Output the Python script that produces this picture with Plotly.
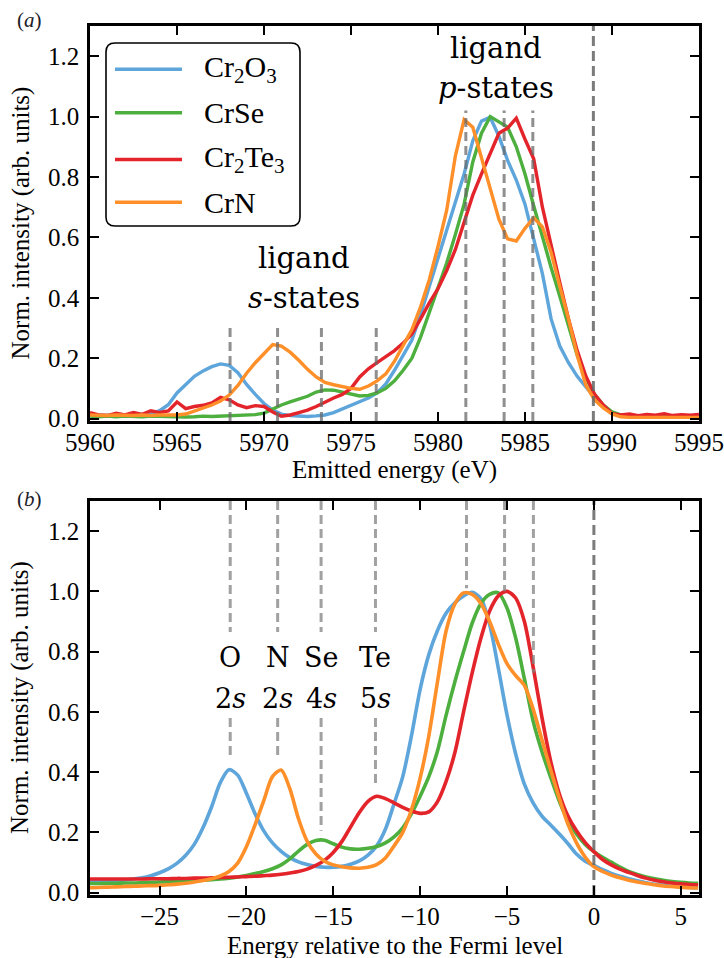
import plotly.graph_objects as go
from plotly.subplots import make_subplots

# ---------------- panel (a): measured emission spectra ----------------
energy_a = [
    5960.0, 5960.5, 5961.0, 5961.5, 5962.0, 5962.5, 5963.0, 5963.5, 5964.0, 5964.5,
    5965.0, 5965.5, 5966.0, 5966.5, 5967.0, 5967.5, 5968.0, 5968.5, 5969.0, 5969.5,
    5970.0, 5970.5, 5971.0, 5971.5, 5972.0, 5972.5, 5973.0, 5973.5, 5974.0, 5974.5,
    5975.0, 5975.5, 5976.0, 5976.5, 5977.0, 5977.5, 5978.0, 5978.5, 5979.0, 5979.5,
    5980.0, 5980.5, 5981.0, 5981.5, 5982.0, 5982.5, 5983.0, 5983.5, 5984.0, 5984.5,
    5985.0, 5985.5, 5986.0, 5986.5, 5987.0, 5987.5, 5988.0, 5988.5, 5989.0, 5989.5,
    5990.0, 5990.5, 5991.0, 5991.5, 5992.0, 5992.5, 5993.0, 5993.5, 5994.0, 5994.5,
    5995.0,
]
cr2o3_a = [
    0.010, 0.012, 0.010, 0.013, 0.010, 0.012, 0.012, 0.016, 0.026, 0.046,
    0.085, 0.114, 0.140, 0.158, 0.172, 0.181, 0.176, 0.152, 0.113, 0.080,
    0.050, 0.028, 0.015, 0.010, 0.008, 0.007, 0.009, 0.012, 0.020, 0.032,
    0.045, 0.056, 0.068, 0.085, 0.115, 0.160, 0.210, 0.260, 0.345, 0.438,
    0.530, 0.615, 0.710, 0.810, 0.920, 0.985, 0.998, 0.935, 0.855, 0.790,
    0.710, 0.600, 0.480, 0.330, 0.240, 0.185, 0.140, 0.105, 0.070, 0.040,
    0.020, 0.010, 0.006, 0.005, 0.005, 0.004, 0.005, 0.004, 0.005, 0.004,
    0.005,
]
crse_a = [
    0.008, 0.006, 0.008, 0.006, 0.008, 0.007, 0.006, 0.008, 0.007, 0.006,
    0.005, 0.005, 0.006, 0.008, 0.007, 0.008, 0.010, 0.009, 0.012, 0.013,
    0.018, 0.032, 0.045, 0.055, 0.064, 0.074, 0.088, 0.095, 0.094, 0.088,
    0.080, 0.075, 0.077, 0.085, 0.100, 0.125, 0.160, 0.200, 0.270, 0.350,
    0.430, 0.515, 0.610, 0.710, 0.850, 0.945, 1.000, 0.982, 0.965, 0.900,
    0.810, 0.705, 0.600, 0.500, 0.405, 0.310, 0.210, 0.135, 0.080, 0.045,
    0.022, 0.012, 0.009, 0.008, 0.009, 0.008, 0.008, 0.009, 0.008, 0.009,
    0.008,
]
cr2te3_a = [
    0.020, 0.012, 0.010, 0.018, 0.012, 0.020, 0.014, 0.026, 0.020, 0.025,
    0.055, 0.033, 0.040, 0.044, 0.052, 0.070, 0.062, 0.045, 0.036, 0.043,
    0.040, 0.022, 0.008, 0.012, 0.020, 0.028, 0.040, 0.055, 0.068, 0.080,
    0.100, 0.138, 0.165, 0.185, 0.205, 0.225, 0.250, 0.280, 0.330, 0.383,
    0.430, 0.490, 0.560, 0.650, 0.740, 0.810, 0.875, 0.945, 0.962, 0.995,
    0.925, 0.860, 0.700, 0.570, 0.450, 0.330, 0.225, 0.140, 0.080, 0.045,
    0.016, 0.012, 0.015, 0.010, 0.014, 0.011, 0.016, 0.010, 0.013, 0.011,
    0.014,
]
crn_a = [
    0.012, 0.010, 0.010, 0.012, 0.010, 0.010, 0.012, 0.010, 0.012, 0.012,
    0.012, 0.015, 0.025, 0.036, 0.045, 0.058, 0.078, 0.110, 0.150, 0.185,
    0.215, 0.245, 0.240, 0.220, 0.193, 0.163, 0.138, 0.120, 0.112, 0.105,
    0.100, 0.097, 0.108, 0.125, 0.148, 0.190, 0.240, 0.295, 0.370, 0.460,
    0.570, 0.690, 0.870, 0.990, 0.965, 0.860, 0.760, 0.660, 0.595, 0.588,
    0.630, 0.665, 0.635, 0.550, 0.438, 0.330, 0.210, 0.110, 0.062, 0.035,
    0.015, 0.006, 0.004, 0.004, 0.004, 0.004, 0.004, 0.004, 0.004, 0.004,
    0.004,
]

# ---------------- panel (b): calculated spectra vs. Fermi level ----------------
energy_b = [
    -29.0, -28.5, -28.0, -27.5, -27.0, -26.5, -26.0, -25.5, -25.0, -24.5,
    -24.0, -23.5, -23.0, -22.5, -22.0, -21.5, -21.0, -20.5, -20.0, -19.5,
    -19.0, -18.5, -18.0, -17.5, -17.0, -16.5, -16.0, -15.5, -15.0, -14.5,
    -14.0, -13.5, -13.0, -12.5, -12.0, -11.5, -11.0, -10.5, -10.0, -9.5,
    -9.0, -8.5, -8.0, -7.5, -7.0, -6.5, -6.0, -5.5, -5.0, -4.5,
    -4.0, -3.5, -3.0, -2.5, -2.0, -1.5, -1.0, -0.5, 0.0, 0.5,
    1.0, 1.5, 2.0, 2.5, 3.0, 3.5, 4.0, 4.5, 5.0, 5.5,
    6.0,
]
cr2o3_b = [
    0.037, 0.038, 0.039, 0.040, 0.042, 0.045, 0.049, 0.056, 0.066, 0.079,
    0.097, 0.123, 0.160, 0.215, 0.285, 0.365, 0.408, 0.390, 0.330, 0.262,
    0.205, 0.165, 0.137, 0.116, 0.102, 0.093, 0.087, 0.084, 0.084, 0.087,
    0.094, 0.105, 0.124, 0.155, 0.210, 0.295, 0.385, 0.520, 0.675, 0.790,
    0.870, 0.928, 0.962, 0.985, 0.997, 0.975, 0.890, 0.745, 0.590, 0.460,
    0.360, 0.298, 0.255, 0.225, 0.195, 0.163, 0.128, 0.104, 0.090, 0.076,
    0.064, 0.054, 0.046, 0.039, 0.033, 0.028, 0.025, 0.022, 0.019, 0.017,
    0.016,
]
crse_b = [
    0.030, 0.030, 0.031, 0.031, 0.032, 0.032, 0.033, 0.034, 0.035, 0.036,
    0.037, 0.038, 0.039, 0.041, 0.043, 0.045, 0.048, 0.052, 0.057, 0.063,
    0.070, 0.079, 0.092, 0.112, 0.138, 0.160, 0.173, 0.174, 0.162, 0.151,
    0.145, 0.144, 0.147, 0.153, 0.165, 0.185, 0.215, 0.262, 0.320, 0.385,
    0.470, 0.590, 0.700, 0.800, 0.895, 0.960, 0.990, 0.995, 0.945, 0.845,
    0.710, 0.570, 0.470, 0.385, 0.305, 0.240, 0.195, 0.160, 0.136, 0.117,
    0.101, 0.085, 0.070, 0.060, 0.052, 0.046, 0.041, 0.037, 0.034, 0.032,
    0.031,
]
cr2te3_b = [
    0.045, 0.045, 0.045, 0.045, 0.045, 0.045, 0.045, 0.046, 0.046, 0.046,
    0.047, 0.047, 0.048, 0.048, 0.049, 0.050, 0.051, 0.052, 0.053, 0.054,
    0.056, 0.058, 0.061, 0.065, 0.070, 0.078, 0.090, 0.107, 0.133, 0.170,
    0.218, 0.266, 0.303, 0.320, 0.312, 0.298, 0.283, 0.271, 0.263, 0.268,
    0.302, 0.370, 0.465, 0.600, 0.730, 0.845, 0.935, 0.985, 1.000, 0.978,
    0.900, 0.750, 0.585, 0.440, 0.330, 0.255, 0.205, 0.166, 0.136, 0.110,
    0.092, 0.078, 0.067, 0.057, 0.048, 0.041, 0.036, 0.032, 0.029, 0.027,
    0.025,
]
crn_b = [
    0.016, 0.017, 0.018, 0.019, 0.020, 0.021, 0.022, 0.023, 0.024, 0.026,
    0.028, 0.031, 0.035, 0.040, 0.046, 0.055, 0.070, 0.098, 0.152, 0.225,
    0.305, 0.385, 0.407, 0.345, 0.245, 0.170, 0.128, 0.104, 0.092, 0.086,
    0.082, 0.081, 0.084, 0.093, 0.115, 0.155, 0.200, 0.275, 0.380, 0.520,
    0.700, 0.870, 0.958, 0.995, 0.990, 0.960, 0.900, 0.825, 0.760, 0.720,
    0.688, 0.610, 0.510, 0.410, 0.315, 0.228, 0.165, 0.118, 0.086, 0.070,
    0.058, 0.049, 0.041, 0.035, 0.030, 0.026, 0.022, 0.020, 0.018, 0.016,
    0.015,
]

series_names = ["Cr<sub>2</sub>O<sub>3</sub>", "CrSe", "Cr<sub>2</sub>Te<sub>3</sub>", "CrN"]
series_colors = ["#5DA5DA", "#4DAF3E", "#E3242B", "#FF8F28"]

# reference energies (dashed guides)
s_state_a = [5968.05, 5970.78, 5973.30, 5976.45]
p_state_a = [5981.60, 5983.80, 5985.45]
fermi_a = 5988.93
s_guide_top_a = 0.30
p_guide_top_a = 1.02

s_state_b = [-20.93, -18.20, -15.70, -12.57]
s_guide_low_b = [0.445, 0.445, 0.205, 0.350]
p_state_b = [-7.33, -5.14, -3.48]
p_guide_low_b = [1.01, 1.00, 0.73]
fermi_b = 0.0
ligand_element = ["O", "N", "Se", "Te"]
ligand_orbital = ["2<i>s</i>", "2<i>s</i>", "4<i>s</i>", "5<i>s</i>"]

x_ticks_a = [5960, 5965, 5970, 5975, 5980, 5985, 5990, 5995]
x_ticks_b = [-25, -20, -15, -10, -5, 0, 5]
y_ticks = [0.0, 0.2, 0.4, 0.6, 0.8, 1.0, 1.2]

Y_MIN, Y_MAX = -0.008, 1.3
SERIF = "Liberation Serif, Times New Roman, serif"
LABEL_FONT = "DejaVu Serif"

# ---------------- figure geometry (pixels) ----------------
W, H = 724, 958
ML, MR, MT, MB = 90, 25, 26, 63
PW, PH = W - ML - MR, H - MT - MB


def px_x(px):
    return (px - ML) / PW


def px_y(py):
    return (H - MB - py) / PH


fig = make_subplots(rows=2, cols=1)

spectra_a = [cr2o3_a, crse_a, cr2te3_a, crn_a]
spectra_b = [cr2o3_b, crse_b, cr2te3_b, crn_b]

for name, color, ya in zip(series_names, series_colors, spectra_a):
    fig.add_trace(go.Scatter(x=energy_a, y=ya, mode="lines", name=name,
                             line=dict(color=color, width=3.4), showlegend=False),
                  row=1, col=1)

for name, color, yb in zip(series_names, series_colors, spectra_b):
    fig.add_trace(go.Scatter(x=energy_b, y=yb, mode="lines", name=name,
                             line=dict(color=color, width=3.6, shape="spline", smoothing=0.8),
                             showlegend=False),
                  row=2, col=1)

guide = dict(color="rgba(105,105,105,0.75)", width=3, dash="9px,5px")
fermi_guide = dict(color="rgba(100,100,100,0.85)", width=3, dash="10px,5px")

# panel (a) guides
for e in s_state_a:
    fig.add_trace(go.Scatter(x=[e, e], y=[Y_MIN, s_guide_top_a], mode="lines",
                             line=guide, showlegend=False, hoverinfo="skip"), row=1, col=1)
for e in p_state_a:
    fig.add_trace(go.Scatter(x=[e, e], y=[Y_MIN, p_guide_top_a], mode="lines",
                             line=guide, showlegend=False, hoverinfo="skip"), row=1, col=1)
fig.add_trace(go.Scatter(x=[fermi_a, fermi_a], y=[Y_MIN, Y_MAX], mode="lines",
                         line=fermi_guide, showlegend=False, hoverinfo="skip"), row=1, col=1)

# panel (b) guides
guide_b = dict(color="rgba(130,130,130,0.75)", width=3, dash="9px,5px")
for e, low in zip(s_state_b, s_guide_low_b):
    fig.add_trace(go.Scatter(x=[e, e, None, e, e], y=[Y_MAX, 0.865, None, 0.58, low],
                             mode="lines", line=guide_b, showlegend=False,
                             hoverinfo="skip"), row=2, col=1)
for e, low in zip(p_state_b, p_guide_low_b):
    fig.add_trace(go.Scatter(x=[e, e], y=[Y_MAX, low], mode="lines",
                             line=guide_b, showlegend=False, hoverinfo="skip"), row=2, col=1)
fig.add_trace(go.Scatter(x=[fermi_b, fermi_b], y=[Y_MIN, Y_MAX], mode="lines",
                         line=fermi_guide, showlegend=False, hoverinfo="skip"), row=2, col=1)

fig.update_layout(
    template="none",
    width=W, height=H,
    margin=dict(l=ML, r=MR, t=MT, b=MB, autoexpand=False),
    paper_bgcolor="white", plot_bgcolor="white",
    font=dict(family=SERIF, size=25, color="black"),
    showlegend=False,
)

tick_font = dict(family=SERIF, size=25, color="black")
axis_style = dict(showline=True, linewidth=2.5, linecolor="black", mirror="ticks",
                  ticks="inside", ticklen=9, tickwidth=1.6, tickcolor="black",
                  showgrid=False, zeroline=False, automargin=False)

fig.update_xaxes(**axis_style)
fig.update_yaxes(**axis_style)
fig.update_xaxes(tickfont=tick_font, ticklabelstandoff=-3)
fig.update_yaxes(tickfont=tick_font, ticklabelstandoff=3)
fig.update_xaxes(range=[5960, 5995], tickvals=x_ticks_a, row=1, col=1)
fig.update_xaxes(range=[-29.0, 6.05], tickvals=x_ticks_b, row=2, col=1)
fig.update_yaxes(range=[Y_MIN, Y_MAX], tickvals=y_ticks, tickformat=".1f")
fig.update_layout(yaxis=dict(domain=[px_y(421), 1.0]),
                  yaxis2=dict(domain=[0.0, px_y(501)]))


def note(text, x, y, xref="paper", yref="paper", font=None, xanchor="center",
         textangle=0):
    return dict(text=text, x=x, y=y, xref=xref, yref=yref, showarrow=False,
                xanchor=xanchor, yanchor="middle", textangle=textangle, font=font)


ann = []
title_font = dict(family=SERIF, size=25, color="black")
ann.append(note("Emitted energy (eV)", 0.5, px_y(470), font=title_font))
ann.append(note("Energy relative to the Fermi level", 0.5, px_y(945), font=title_font))
for yc in (223.5, 698):
    ann.append(note("Norm. intensity (arb. units)", px_x(20), px_y(yc),
                    font=title_font, textangle=-90))

panel_font = dict(family=SERIF, size=21, color="#1c1c2a")
ann.append(note("(<i>a</i>)", px_x(29), px_y(20), font=panel_font))
ann.append(note("(<i>b</i>)", px_x(29), px_y(499), font=panel_font))

lig_font = dict(family=LABEL_FONT, size=29, color="black")
ann.append(note("ligand", 5972.27, 0.533, "x", "y", lig_font))
ann.append(note("<i>s</i>-states", 5972.27, 0.400, "x", "y", lig_font))
ann.append(note("ligand", 5983.36, 1.228, "x", "y", lig_font))
ann.append(note("<i>p</i>-states", 5983.36, 1.096, "x", "y", lig_font))

el_font = dict(family=LABEL_FONT, size=27, color="black")
for e, el, orb in zip(s_state_b, ligand_element, ligand_orbital):
    ann.append(note(el, e, 0.782, "x2", "y2", el_font))
    ann.append(note(orb, e, 0.643, "x2", "y2", el_font))

# legend box with rounded corners
shapes = []
L, R, T, B, r = 106, 300, 43, 226, 9
rx, ry = r / PW, r / PH
x0, x1, y0, y1 = px_x(L), px_x(R), px_y(B), px_y(T)
path = (f"M {x0+rx},{y1} L {x1-rx},{y1} Q {x1},{y1} {x1},{y1-ry} "
        f"L {x1},{y0+ry} Q {x1},{y0} {x1-rx},{y0} L {x0+rx},{y0} "
        f"Q {x0},{y0} {x0},{y0+ry} L {x0},{y1-ry} Q {x0},{y1} {x0+rx},{y1} Z")
shapes.append(dict(type="path", xref="paper", yref="paper", path=path,
                   line=dict(color="black", width=1.6), fillcolor="white", layer="above"))
legend_rows = [69.3, 112.7, 159.5, 202.3]
for name, color, yr in zip(series_names, series_colors, legend_rows):
    shapes.append(dict(type="line", xref="paper", yref="paper",
                       x0=px_x(115), x1=px_x(182), y0=px_y(yr), y1=px_y(yr),
                       line=dict(color=color, width=3.6), layer="above"))
    ann.append(note(name, px_x(202), px_y(yr), xanchor="left",
                    font=dict(family=SERIF, size=30, color="black")))

fig.update_layout(annotations=ann, shapes=shapes)

fig.write_html("out.html")
